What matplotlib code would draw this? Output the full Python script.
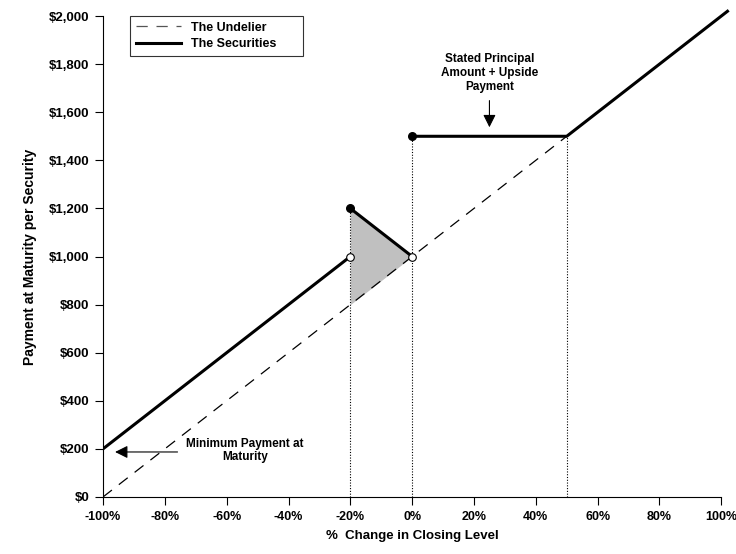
import numpy as np
import matplotlib.pyplot as plt

plt.rcParams['font.family'] = ['Liberation Sans', 'DejaVu Sans']
plt.rcParams['font.weight'] = 'bold'

# data
under_x = [-100, 100]
under_y = [0, 2000]
sec_low_x = [-100, -20]
sec_low_y = [200, 1000]
sec_mid_x = [-20, 0]
sec_mid_y = [1200, 1000]
sec_up_x = [0, 50, 102]
sec_up_y = [1500, 1500, 2020]
shade_x = [-20, 0]
shade_top = [1200, 1000]
shade_bot = [800, 1000]
vlines_x = [-20, 0, 50]
vlines_top = [1200, 1500, 1500]
filled_x = [-20, 0]
filled_y = [1200, 1500]
open_x = [-20, 0]
open_y = [1000, 1000]
xticks = np.arange(-100, 101, 20)
yticks = np.arange(0, 2001, 200)

fig = plt.figure(figsize=(7.36, 5.54), dpi=100)
ax = fig.add_axes([0.140, 0.103, 0.840, 0.868])

ax.fill_between(shade_x, shade_bot, shade_top, color='#c0c0c0', lw=0, zorder=1)
for x, t in zip(vlines_x, vlines_top):
    ax.plot([x, x], [0, t], color='black', lw=0.8, ls=(0, (1, 1.5)), zorder=2)

ax.plot(under_x, under_y, color='black', lw=0.9, dashes=(9, 7), label='The Undelier', zorder=3)
ax.plot(sec_low_x, sec_low_y, color='black', lw=2.2, label='The Securities', zorder=4)
ax.plot(sec_mid_x, sec_mid_y, color='black', lw=2.2, zorder=4)
ax.plot(sec_up_x, sec_up_y, color='black', lw=2.2, zorder=4, clip_on=False)

ax.scatter(filled_x, filled_y, s=30, color='black', zorder=5)
ax.scatter(open_x, open_y, s=30, facecolor='white', edgecolor='black', lw=0.8, zorder=5)

# annotations
ax.text(25, 1763, 'Stated Principal\nAmount + Upside\nPayment', ha='center', va='center',
        fontsize=8.5, fontweight='bold', linespacing=1.25)
ax.annotate('', xy=(25, 1526), xytext=(25, 1660),
            arrowprops=dict(arrowstyle='-|>', color='black', lw=0.8, mutation_scale=19))
ax.text(-54, 193, 'Minimum Payment at\nMaturity', ha='center', va='center',
        fontsize=8.5, fontweight='bold', linespacing=1.1)
ax.annotate('', xy=(-97, 187), xytext=(-75, 187),
            arrowprops=dict(arrowstyle='-|>', color='black', lw=0.8, mutation_scale=19))

ax.set_xlim(-100, 100)
ax.set_ylim(0, 2000)
ax.set_xticks(xticks)
ax.set_xticklabels(['%d%%' % v for v in xticks])
ax.set_yticks(yticks)
ax.set_yticklabels(['${:,}'.format(v) for v in yticks])
ax.tick_params(direction='out', length=6, width=0.8, labelsize=9)
ax.tick_params(axis='x', pad=4)
ax.tick_params(axis='y', pad=4, labelsize=9.5)
for s in ['top', 'right']:
    ax.spines[s].set_visible(False)
ax.set_xlabel('%  Change in Closing Level', fontsize=9.5, fontweight='bold', labelpad=5)
ax.set_ylabel('Payment at Maturity per Security', fontsize=10, fontweight='bold', labelpad=8)

leg = ax.legend(loc='upper left', bbox_to_anchor=(0.044, 1.0, 0.28, 0.0), mode='expand',
                fontsize=9, frameon=True, fancybox=False, edgecolor='black',
                handlelength=3.6, handletextpad=0.8, borderpad=0.45, labelspacing=0.35,
                borderaxespad=0)
leg.get_frame().set_linewidth(0.8)
leg.get_lines()[0].set_color('#555555')

fig.savefig('out.png', dpi=100)
